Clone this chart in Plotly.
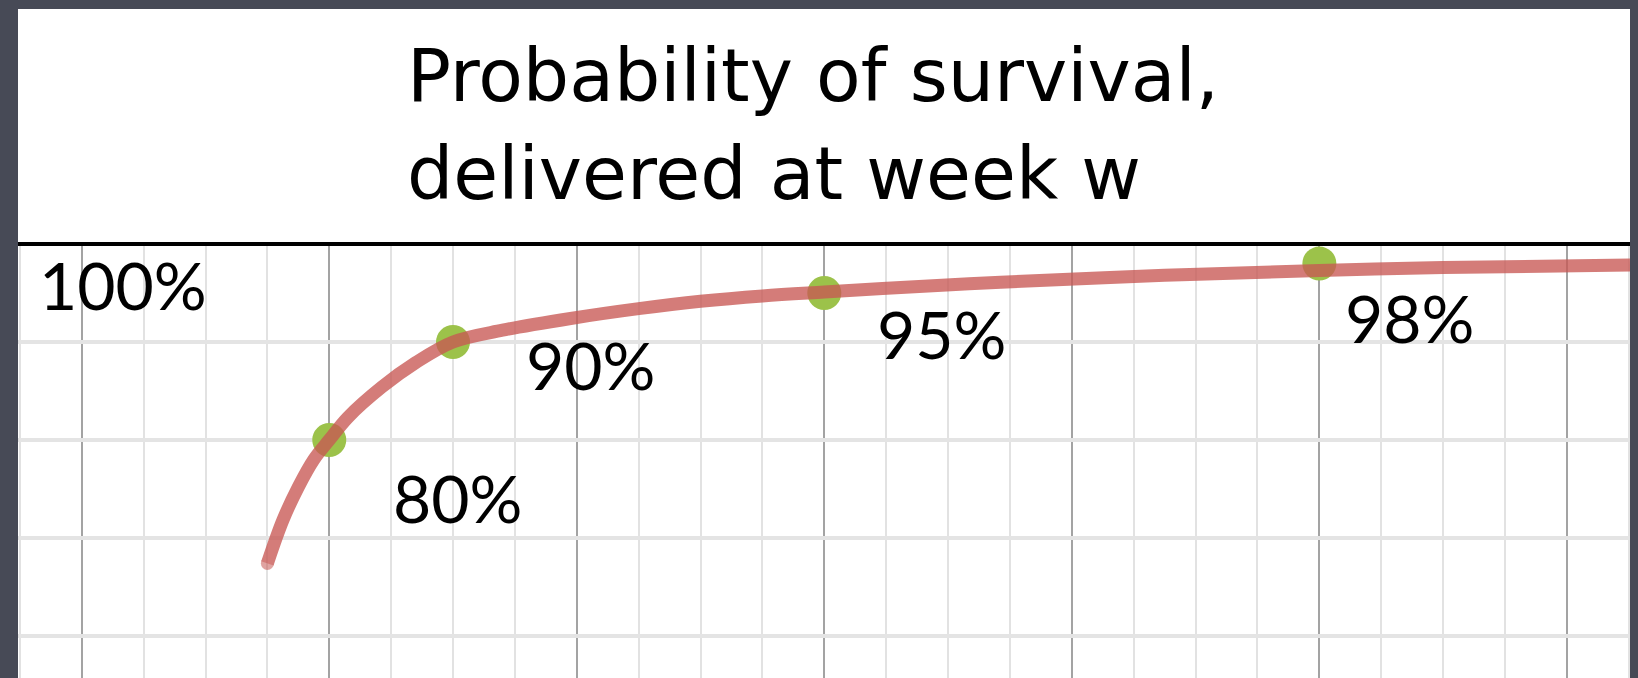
import plotly.graph_objects as go

# ---- data ----
curve_weeks = [23.0, 23.25, 23.5, 23.75, 24.0, 24.3, 24.85, 25.4, 26.0, 26.8,
               27.9, 29.0, 30.0, 31.0, 32.0, 33.9, 34.85, 37.5, 40.0, 42.0, 45.02]
curve_survival = [67.4, 71.8, 75.2, 78.0, 80.0, 82.3, 85.4, 87.9, 90.0, 91.2,
                  92.4, 93.4, 94.15, 94.7, 95.1, 95.8, 96.1, 96.8, 97.3, 97.6, 97.85]

point_weeks = [24, 26, 32, 40]
point_survival = [80, 90, 95, 98]

label_texts = ["100%", "80%", "90%", "95%", "98%"]
title_lines = ["Probability of survival,", "delivered at week w"]

# ---- layout constants ----
W, H = 1638, 678
TITLE_FONT = "'DejaVu Sans', sans-serif"
LABEL_FONT = "Lato, 'Open Sans', sans-serif"
BORDER = "#474a56"

panel_x0, panel_x1 = 18 / W, 1630 / W
panel_top = 1 - 9 / H
plot_top = 1 - 244 / H

fig = go.Figure()

fig.add_trace(go.Scatter(
    x=point_weeks, y=point_survival, mode="markers",
    marker=dict(size=34, color="#9cc24a", line=dict(width=0)),
    hoverinfo="skip", showlegend=False,
))
cap_sizes = [13] + [0] * (len(curve_weeks) - 1)
fig.add_trace(go.Scatter(
    x=curve_weeks, y=curve_survival, mode="lines+markers",
    line=dict(color="rgb(200,88,84)", width=13, shape="spline", smoothing=1.0),
    marker=dict(size=cap_sizes, color="rgb(200,88,84)", line=dict(width=0)),
    opacity=0.78,
    hoverinfo="skip", showlegend=False,
))

label_pos = [(20.67, 95.9), (26.08, 74.1), (28.22, 87.65), (33.9, 90.9), (41.46, 92.45)]
annotations = []
for t, (lx, ly) in zip(label_texts, label_pos):
    annotations.append(dict(x=lx, y=ly, xref="x", yref="y", text=t, showarrow=False,
                            xanchor="center", yanchor="middle",
                            font=dict(family=LABEL_FONT, size=66, color="#000000")))

title_centers_px = [75, 173]
for line, cy in zip(title_lines, title_centers_px):
    annotations.append(dict(
        x=405 / W, y=1 - cy / H, xref="paper", yref="paper",
        text=line, showarrow=False, align="left",
        xanchor="left", yanchor="middle",
        font=dict(family=TITLE_FONT, size=73, color="#000000"),
    ))

shapes = [
    dict(type="rect", xref="paper", yref="paper", x0=panel_x0, x1=panel_x1,
         y0=0, y1=panel_top, fillcolor="#ffffff", line=dict(width=0), layer="below"),
    dict(type="line", xref="paper", yref="paper", x0=panel_x0, x1=panel_x1,
         y0=plot_top, y1=plot_top, line=dict(color="#000000", width=4), layer="above"),
]

fig.update_layout(
    width=W, height=H,
    margin=dict(l=0, r=0, t=0, b=0),
    paper_bgcolor=BORDER,
    plot_bgcolor="rgba(0,0,0,0)",
    showlegend=False,
    annotations=annotations,
    shapes=shapes,
    xaxis=dict(
        domain=[panel_x0, panel_x1], range=[18.97, 45.02],
        tick0=20, dtick=4, showgrid=True, gridcolor="#a3a3a3", gridwidth=2,
        minor=dict(tick0=20, dtick=1, showgrid=True, gridcolor="#e2e2e2", gridwidth=2),
        showticklabels=False, ticks="", zeroline=False, showline=False, fixedrange=True,
    ),
    yaxis=dict(
        domain=[0, plot_top], range=[55.7, 100],
        tick0=0, dtick=10, showgrid=True, gridcolor="#e4e4e4", gridwidth=4,
        showticklabels=False, ticks="", zeroline=False, showline=False, fixedrange=True,
    ),
)

fig.write_html(
    "out.html",
    config={"displayModeBar": False},
    post_script="document.body.style.margin='0';document.body.style.overflow='hidden';"
                "document.body.style.background='" + BORDER + "';",
)
